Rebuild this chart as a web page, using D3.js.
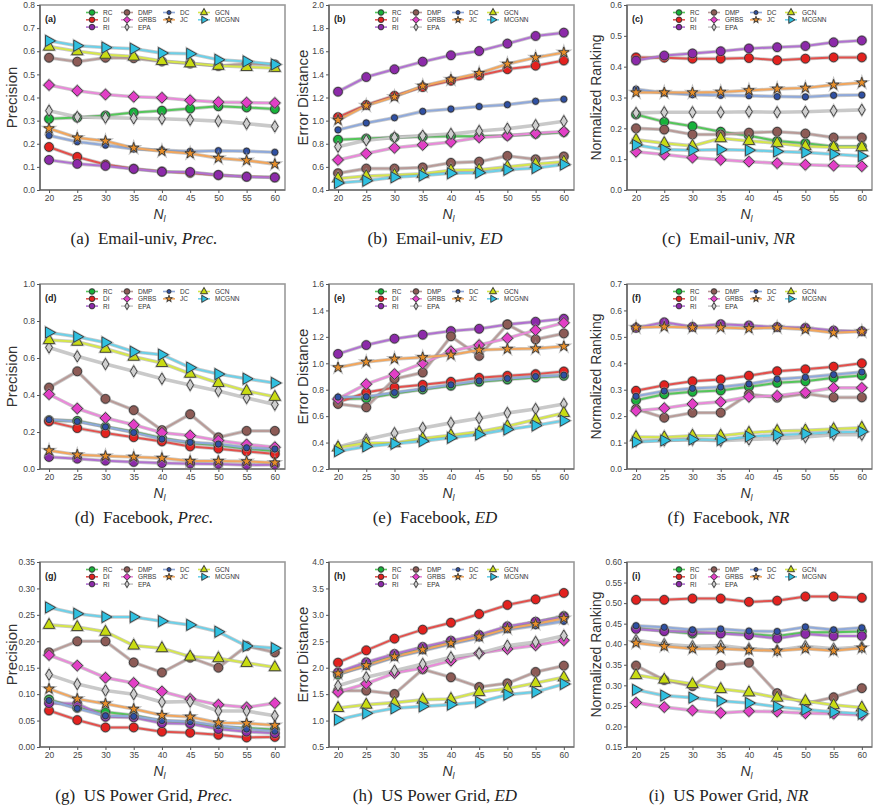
<!DOCTYPE html>
<html>
<head>
<meta charset="utf-8">
<script src="https://cdn.jsdelivr.net/npm/d3@7"></script>
<style>
  body { margin: 0; background: #fff; }
  svg { display: block; }
</style>
</head>
<body>
<svg id="chart" width="874" height="810"></svg>
<script>
// Budget sizes N_l on the x axis
const budgets = [20, 25, 30, 35, 40, 45, 50, 55, 60];
const methods = ["RC", "DI", "RI", "DMP", "GRBS", "EPA", "DC", "JC", "GCN", "MCGNN"];
const markerFills = ["#17b23a", "#e3221f", "#8c2aa9", "#8d5b56", "#e23fc6", "#cfcfcf", "#2f50a3", "#e88f2a", "#c9dc12", "#2fc0e0"];
const lineColors  = ["#55c65a", "#e2504c", "#b071d0", "#b89b98", "#e98ad9", "#c9c9c9", "#8fa9da", "#f2a65c", "#d6e64c", "#6dd0e8"];
const markerShapes = ["circle", "circle", "circle", "circle", "diamond", "thinDiamond", "smallCircle", "star", "triUp", "triRight"];

// Each panel: one row of values per method, in the order of `methods`
const emailPrec = [
  [0.308, 0.313, 0.322, 0.335, 0.343, 0.352, 0.362, 0.357, 0.350],
  [0.186, 0.143, 0.110, 0.092, 0.080, 0.074, 0.064, 0.058, 0.055],
  [0.130, 0.113, 0.104, 0.091, 0.079, 0.078, 0.065, 0.057, 0.054],
  [0.572, 0.555, 0.572, 0.570, 0.556, 0.547, 0.536, 0.546, 0.543],
  [0.454, 0.429, 0.413, 0.403, 0.399, 0.388, 0.380, 0.378, 0.376],
  [0.343, 0.316, 0.313, 0.310, 0.308, 0.304, 0.298, 0.287, 0.275],
  [0.236, 0.209, 0.194, 0.177, 0.172, 0.167, 0.170, 0.168, 0.163],
  [0.266, 0.226, 0.212, 0.182, 0.168, 0.158, 0.138, 0.128, 0.112],
  [0.620, 0.600, 0.585, 0.577, 0.558, 0.548, 0.537, 0.532, 0.528],
  [0.645, 0.624, 0.616, 0.611, 0.592, 0.589, 0.563, 0.556, 0.543]
];
const emailED = [
  [0.835, 0.845, 0.855, 0.860, 0.865, 0.865, 0.870, 0.885, 0.900],
  [1.030, 1.135, 1.215, 1.290, 1.345, 1.390, 1.445, 1.475, 1.520],
  [1.250, 1.377, 1.444, 1.510, 1.565, 1.602, 1.666, 1.732, 1.761],
  [0.545, 0.585, 0.585, 0.595, 0.635, 0.645, 0.695, 0.665, 0.690],
  [0.660, 0.715, 0.765, 0.790, 0.815, 0.855, 0.870, 0.890, 0.905],
  [0.775, 0.830, 0.855, 0.870, 0.885, 0.910, 0.930, 0.960, 0.995],
  [0.920, 0.980, 1.025, 1.080, 1.100, 1.122, 1.138, 1.167, 1.185],
  [1.005, 1.130, 1.205, 1.300, 1.355, 1.410, 1.490, 1.545, 1.590],
  [0.500, 0.520, 0.530, 0.540, 0.570, 0.575, 0.600, 0.625, 0.645],
  [0.460, 0.480, 0.510, 0.525, 0.545, 0.550, 0.575, 0.590, 0.620]
];
const emailNR = [
  [0.245, 0.221, 0.207, 0.189, 0.176, 0.159, 0.152, 0.141, 0.141],
  [0.430, 0.429, 0.426, 0.426, 0.428, 0.421, 0.426, 0.430, 0.430],
  [0.420, 0.436, 0.443, 0.450, 0.459, 0.463, 0.467, 0.479, 0.485],
  [0.200, 0.196, 0.180, 0.180, 0.186, 0.189, 0.183, 0.170, 0.170],
  [0.124, 0.115, 0.105, 0.098, 0.092, 0.087, 0.082, 0.079, 0.077],
  [0.250, 0.252, 0.252, 0.252, 0.254, 0.252, 0.254, 0.257, 0.260],
  [0.327, 0.315, 0.309, 0.307, 0.306, 0.303, 0.302, 0.307, 0.308],
  [0.316, 0.316, 0.316, 0.318, 0.323, 0.328, 0.331, 0.341, 0.348],
  [0.163, 0.152, 0.143, 0.168, 0.159, 0.152, 0.142, 0.139, 0.139],
  [0.146, 0.131, 0.129, 0.131, 0.129, 0.125, 0.122, 0.116, 0.110]
];
const fbPrec = [
  [0.264, 0.260, 0.228, 0.201, 0.167, 0.140, 0.129, 0.110, 0.097],
  [0.257, 0.221, 0.194, 0.172, 0.149, 0.122, 0.110, 0.095, 0.081],
  [0.065, 0.056, 0.045, 0.038, 0.032, 0.029, 0.027, 0.022, 0.023],
  [0.440, 0.528, 0.379, 0.318, 0.210, 0.296, 0.171, 0.206, 0.206],
  [0.404, 0.327, 0.276, 0.239, 0.196, 0.181, 0.154, 0.133, 0.118],
  [0.657, 0.609, 0.567, 0.528, 0.488, 0.454, 0.422, 0.384, 0.348],
  [0.267, 0.257, 0.228, 0.197, 0.162, 0.144, 0.135, 0.115, 0.108],
  [0.100, 0.077, 0.070, 0.065, 0.059, 0.043, 0.043, 0.041, 0.034],
  [0.697, 0.688, 0.650, 0.607, 0.573, 0.515, 0.465, 0.422, 0.390],
  [0.738, 0.715, 0.684, 0.634, 0.618, 0.548, 0.513, 0.488, 0.465]
];
const fbED = [
  [0.729, 0.734, 0.772, 0.802, 0.830, 0.860, 0.877, 0.892, 0.905],
  [0.704, 0.779, 0.817, 0.837, 0.860, 0.890, 0.905, 0.918, 0.938],
  [1.071, 1.138, 1.186, 1.216, 1.244, 1.261, 1.294, 1.314, 1.337],
  [0.692, 0.667, 0.882, 0.930, 1.204, 1.056, 1.294, 1.181, 1.226],
  [0.730, 0.842, 0.918, 1.000, 1.091, 1.138, 1.189, 1.251, 1.306],
  [0.366, 0.423, 0.471, 0.511, 0.549, 0.584, 0.624, 0.654, 0.692],
  [0.744, 0.747, 0.779, 0.807, 0.837, 0.867, 0.885, 0.900, 0.910],
  [0.968, 1.010, 1.033, 1.045, 1.063, 1.101, 1.108, 1.111, 1.128],
  [0.363, 0.396, 0.396, 0.431, 0.456, 0.481, 0.524, 0.574, 0.624],
  [0.335, 0.371, 0.391, 0.411, 0.436, 0.461, 0.499, 0.529, 0.566]
];
const fbNR = [
  [0.260, 0.283, 0.292, 0.297, 0.311, 0.326, 0.332, 0.345, 0.354],
  [0.296, 0.317, 0.332, 0.339, 0.353, 0.370, 0.377, 0.387, 0.400],
  [0.534, 0.555, 0.538, 0.548, 0.543, 0.537, 0.534, 0.524, 0.521],
  [0.227, 0.194, 0.213, 0.213, 0.283, 0.270, 0.285, 0.271, 0.271],
  [0.220, 0.230, 0.246, 0.254, 0.273, 0.277, 0.290, 0.307, 0.307],
  [0.106, 0.108, 0.111, 0.107, 0.112, 0.115, 0.121, 0.130, 0.130],
  [0.275, 0.295, 0.305, 0.310, 0.322, 0.340, 0.347, 0.357, 0.367],
  [0.535, 0.538, 0.535, 0.535, 0.532, 0.535, 0.528, 0.516, 0.520],
  [0.121, 0.120, 0.126, 0.126, 0.137, 0.144, 0.146, 0.151, 0.156],
  [0.102, 0.108, 0.112, 0.110, 0.123, 0.128, 0.133, 0.139, 0.141]
];
const gridPrec = [
  [0.090, 0.074, 0.066, 0.060, 0.049, 0.047, 0.038, 0.036, 0.033],
  [0.069, 0.051, 0.037, 0.037, 0.029, 0.027, 0.023, 0.018, 0.019],
  [0.083, 0.082, 0.057, 0.056, 0.045, 0.044, 0.034, 0.029, 0.026],
  [0.179, 0.200, 0.200, 0.160, 0.141, 0.169, 0.150, 0.191, 0.179],
  [0.174, 0.154, 0.131, 0.121, 0.105, 0.091, 0.080, 0.075, 0.083],
  [0.137, 0.119, 0.107, 0.100, 0.085, 0.086, 0.068, 0.068, 0.059],
  [0.088, 0.073, 0.059, 0.058, 0.050, 0.048, 0.040, 0.034, 0.030],
  [0.110, 0.091, 0.082, 0.072, 0.060, 0.057, 0.046, 0.045, 0.041],
  [0.231, 0.227, 0.218, 0.192, 0.187, 0.171, 0.168, 0.159, 0.151],
  [0.264, 0.252, 0.246, 0.246, 0.238, 0.231, 0.218, 0.191, 0.187]
];
const gridED = [
  [1.868, 2.058, 2.228, 2.360, 2.493, 2.606, 2.764, 2.859, 2.978],
  [2.096, 2.329, 2.550, 2.720, 2.852, 3.016, 3.187, 3.294, 3.414],
  [1.913, 2.102, 2.260, 2.392, 2.512, 2.619, 2.783, 2.871, 2.966],
  [1.566, 1.566, 1.503, 1.969, 1.818, 1.635, 1.704, 1.919, 2.039],
  [1.540, 1.698, 1.900, 1.994, 2.133, 2.272, 2.354, 2.423, 2.518],
  [1.660, 1.818, 1.944, 2.070, 2.196, 2.272, 2.417, 2.486, 2.606],
  [1.881, 2.026, 2.196, 2.322, 2.449, 2.562, 2.720, 2.795, 2.877],
  [1.887, 2.045, 2.209, 2.341, 2.468, 2.587, 2.739, 2.827, 2.934],
  [1.238, 1.301, 1.339, 1.395, 1.408, 1.540, 1.604, 1.711, 1.818],
  [1.017, 1.137, 1.232, 1.269, 1.301, 1.351, 1.490, 1.540, 1.692]
];
const gridNR = [
  [0.439, 0.432, 0.426, 0.428, 0.425, 0.420, 0.429, 0.429, 0.431],
  [0.508, 0.508, 0.511, 0.511, 0.503, 0.506, 0.516, 0.516, 0.513],
  [0.437, 0.432, 0.430, 0.426, 0.422, 0.414, 0.425, 0.420, 0.420],
  [0.348, 0.313, 0.298, 0.349, 0.355, 0.281, 0.256, 0.271, 0.293],
  [0.258, 0.247, 0.239, 0.233, 0.237, 0.236, 0.232, 0.231, 0.228],
  [0.410, 0.400, 0.395, 0.397, 0.389, 0.385, 0.395, 0.389, 0.393],
  [0.445, 0.441, 0.435, 0.437, 0.432, 0.431, 0.442, 0.435, 0.440],
  [0.403, 0.395, 0.389, 0.389, 0.386, 0.384, 0.389, 0.384, 0.391],
  [0.325, 0.314, 0.303, 0.291, 0.283, 0.270, 0.262, 0.252, 0.246],
  [0.289, 0.275, 0.270, 0.262, 0.257, 0.248, 0.241, 0.235, 0.231]
];

// Y tick values per metric/dataset
const precEmailTicks = [0, 0.1, 0.2, 0.3, 0.4, 0.5, 0.6, 0.7, 0.8];
const edEmailTicks = [0.4, 0.6, 0.8, 1.0, 1.2, 1.4, 1.6, 1.8, 2.0];
const nrEmailTicks = [0, 0.1, 0.2, 0.3, 0.4, 0.5, 0.6];
const precFbTicks = [0, 0.2, 0.4, 0.6, 0.8, 1.0];
const edFbTicks = [0.2, 0.4, 0.6, 0.8, 1.0, 1.2, 1.4, 1.6];
const nrFbTicks = [0, 0.1, 0.2, 0.3, 0.4, 0.5, 0.6, 0.7];
const precGridTicks = [0, 0.05, 0.10, 0.15, 0.20, 0.25, 0.30, 0.35];
const edGridTicks = [0.5, 1.0, 1.5, 2.0, 2.5, 3.0, 3.5, 4.0];
const nrGridTicks = [0.15, 0.20, 0.25, 0.30, 0.35, 0.40, 0.45, 0.50, 0.55, 0.60];

const yTitles = ["Precision", "Error Distance", "Normalized Ranking"];
const datasetNames = ["Email-univ", "Facebook", "US Power Grid"];
const metricShort = ["Prec.", "ED", "NR"];
const panelLetters = ["a", "b", "c", "d", "e", "f", "g", "h", "i"];

const panelData = [emailPrec, emailED, emailNR, fbPrec, fbED, fbNR, gridPrec, gridED, gridNR];
const panelTicks = [precEmailTicks, edEmailTicks, nrEmailTicks, precFbTicks, edFbTicks, nrFbTicks, precGridTicks, edGridTicks, nrGridTicks];
const panelFormats = [".1f", ".1f", ".1f", ".1f", ".1f", ".1f", ".2f", ".1f", ".2f"];

// Layout
const colLeft = [40, 329, 627];
const colPanelLeft = [0, 290, 583];
const colPanelWidth = [288, 290, 291];
const yTitleX = [11, 302, 596];
const rowTop = [5, 284, 562];
const plotW = 245, plotH = 185;

const svg = d3.select("#chart");
const sans = "'Liberation Sans', Arial, sans-serif";
const serif = "'Liberation Serif', 'Times New Roman', serif";

function markerPath(shape, s) {
  // s = scale factor (1 for plot, smaller for legend)
  switch (shape) {
    case "circle": {
      const r = 4.4 * s;
      return `M${r},0A${r},${r} 0 1,1 ${-r},0A${r},${r} 0 1,1 ${r},0Z`;
    }
    case "smallCircle": {
      const r = 3.1 * s;
      return `M${r},0A${r},${r} 0 1,1 ${-r},0A${r},${r} 0 1,1 ${r},0Z`;
    }
    case "diamond": {
      const r = 5.4 * s;
      return `M0,${-r}L${r},0L0,${r}L${-r},0Z`;
    }
    case "thinDiamond": {
      const r = 5.6 * s, w = 3.3 * s;
      return `M0,${-r}L${w},0L0,${r}L${-w},0Z`;
    }
    case "star":
      return d3.symbol(d3.symbolStar, 34 * s * s)();
    case "triUp": {
      const r = 6.4 * s;
      return `M0,${-r}L${0.87 * r},${0.55 * r}L${-0.87 * r},${0.55 * r}Z`;
    }
    case "triRight": {
      const r = 6.4 * s;
      return `M${r},0L${-0.55 * r},${0.87 * r}L${-0.55 * r},${-0.87 * r}Z`;
    }
  }
}

function drawMarker(g, shape, i, x, y, s) {
  const d = markerPath(shape, s);
  g.append("path").attr("d", d).attr("transform", `translate(${x},${y})`)
    .attr("fill", "none").attr("stroke", "#9a9a9a").attr("stroke-width", 2.2 * s).attr("stroke-opacity", 0.6);
  g.append("path").attr("d", d).attr("transform", `translate(${x},${y})`)
    .attr("fill", markerFills[i]).attr("stroke", "#2a2a2a").attr("stroke-width", 0.8);
}

panelData.forEach((series, p) => {
  const col = p % 3, row = Math.floor(p / 3);
  const left = colLeft[col], top = rowTop[row];
  const ticks = panelTicks[p];
  const x = d3.scaleLinear().domain([18.4, 61.8]).range([left, left + plotW]);
  const y = d3.scaleLinear().domain([ticks[0], ticks[ticks.length - 1]]).range([top + plotH, top]);

  const g = svg.append("g");

  // Frame
  g.append("rect").attr("x", left).attr("y", top).attr("width", plotW).attr("height", plotH)
    .attr("fill", "none").attr("stroke", "#9a9a9a").attr("stroke-width", 1.6);

  // Axes
  const yAxis = d3.axisLeft(y).tickValues(ticks).tickFormat(d3.format(panelFormats[p])).tickSize(3).tickPadding(2);
  const xAxis = d3.axisBottom(x).tickValues(budgets).tickFormat(d3.format("d")).tickSize(3).tickPadding(2);
  const ya = g.append("g").attr("transform", `translate(${left},0)`).call(yAxis);
  const xa = g.append("g").attr("transform", `translate(0,${top + plotH})`).call(xAxis);
  [ya, xa].forEach(a => {
    a.select(".domain").attr("stroke", "#555").attr("stroke-width", 1.2);
    a.selectAll(".tick line").attr("stroke", "#555");
    a.selectAll(".tick text").attr("fill", "#444").style("font-family", sans).style("font-size", "8.5px");
  });
  ya.select(".domain").attr("d", `M0,${top + plotH}V${top}`);
  xa.select(".domain").attr("d", `M${left},0H${left + plotW}`);

  // Y title
  g.append("text")
    .attr("transform", `translate(${yTitleX[col]},${top + plotH / 2}) rotate(-90)`)
    .attr("text-anchor", "middle").attr("dominant-baseline", "central")
    .style("font-family", sans).style("font-size", col === 2 ? "14px" : "15px").attr("fill", "#333")
    .text(yTitles[col]);

  // X title N_l
  const xt = g.append("text").attr("x", left + plotW / 2 - 3).attr("y", top + plotH + 29)
    .attr("text-anchor", "middle").style("font-family", sans).style("font-size", "14px")
    .style("font-style", "italic").attr("fill", "#333");
  xt.append("tspan").text("N");
  xt.append("tspan").attr("dy", 3).style("font-size", "9px").text("l");

  // Panel letter
  g.append("text").attr("x", left + 5).attr("y", top + 17)
    .style("font-family", sans).style("font-size", "9px").style("font-weight", "bold").attr("fill", "#222")
    .text(`(${panelLetters[p]})`);

  // Lines
  const line = d3.line().x((d, k) => x(budgets[k])).y(d => y(d));
  series.forEach((vals, i) => {
    g.append("path").attr("d", line(vals)).attr("fill", "none")
      .attr("stroke", "#8a8a8a").attr("stroke-opacity", 0.45).attr("stroke-width", 3.6);
    g.append("path").attr("d", line(vals)).attr("fill", "none")
      .attr("stroke", lineColors[i]).attr("stroke-width", 2);
  });
  // Markers
  series.forEach((vals, i) => {
    const mg = g.append("g");
    vals.forEach((v, k) => drawMarker(mg, markerShapes[i], i, x(budgets[k]), y(v), 1));
  });

  // Legend: 4 columns, column-major
  const legCols = [[0, 1, 2], [3, 4, 5], [6, 7], [8, 9]];
  const legMarkX = [52, 87, 129, 164];
  const legRowY = [7.5, 14.8, 22.1];
  legCols.forEach((items, c) => {
    items.forEach((i, r) => {
      const mx = left + legMarkX[c], my = top + legRowY[r];
      g.append("line").attr("x1", mx - 6).attr("x2", mx + 6).attr("y1", my).attr("y2", my)
        .attr("stroke", lineColors[i]).attr("stroke-width", 1.6);
      drawMarker(g, markerShapes[i], i, mx, my, 0.62);
      g.append("text").attr("x", mx + 11).attr("y", my).attr("dominant-baseline", "central")
        .style("font-family", sans).style("font-size", "6.5px").attr("fill", "#333")
        .text(methods[i]);
    });
  });

  // Caption
  const cap = g.append("text")
    .attr("x", colPanelLeft[col] + colPanelWidth[col] / 2)
    .attr("y", top + plotH + 54)
    .attr("text-anchor", "middle")
    .style("font-family", serif).style("font-size", "17px").attr("fill", "#222");
  cap.append("tspan").text(`(${panelLetters[p]})\u00a0 ${datasetNames[row]}, `);
  cap.append("tspan").style("font-style", "italic").text(metricShort[col]);
});
</script>
</body>
</html>
